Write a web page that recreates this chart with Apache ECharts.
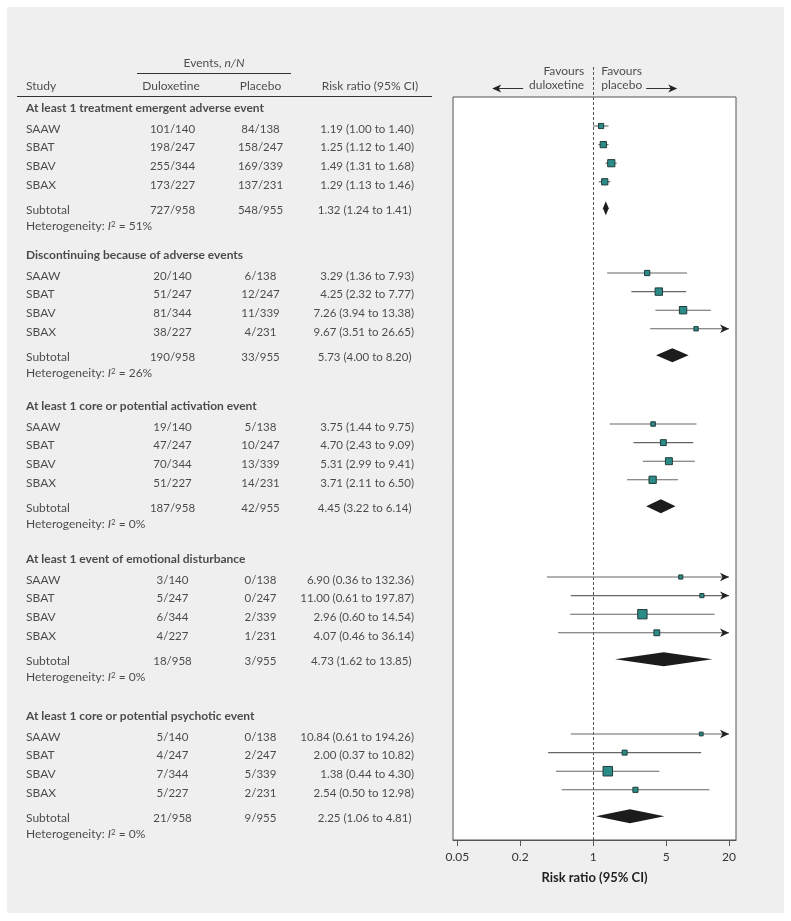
<!DOCTYPE html>
<html><head><meta charset="utf-8">
<script src="https://cdn.jsdelivr.net/npm/echarts@6/dist/echarts.min.js"></script>
<style>html,body{margin:0;padding:0;background:#fff}#c{width:791px;height:921px}</style>
</head><body><div id="c"></div>
<script>
// ---------------- DATA ----------------
const groupTitles = [
  'At least 1 treatment emergent adverse event',
  'Discontinuing because of adverse events',
  'At least 1 core or potential activation event',
  'At least 1 event of emotional disturbance',
  'At least 1 core or potential psychotic event'
];
const studies = ['SAAW', 'SBAT', 'SBAV', 'SBAX'];
const duloxN = [140, 247, 344, 227];
const placeboN = [138, 247, 339, 231];
const duloxEvents = [[101,198,255,173],[20,51,81,38],[19,47,70,51],[3,5,6,4],[5,4,7,5]];
const placeboEvents = [[84,158,169,137],[6,12,11,4],[5,10,13,14],[0,0,2,1],[0,2,5,2]];
const rr     = [[1.19,1.25,1.49,1.29],[3.29,4.25,7.26,9.67],[3.75,4.70,5.31,3.71],[6.90,11.00,2.96,4.07],[10.84,2.00,1.38,2.54]];
const rrLow  = [[1.00,1.12,1.31,1.13],[1.36,2.32,3.94,3.51],[1.44,2.43,2.99,2.11],[0.36,0.61,0.60,0.46],[0.61,0.37,0.44,0.50]];
const rrHigh = [[1.40,1.40,1.68,1.46],[7.93,7.77,13.38,26.65],[9.75,9.09,9.41,6.50],[132.36,197.87,14.54,36.14],[194.26,10.82,4.30,12.98]];
const weights = [[17,25,33,25],[18,35,35,12],[13,22,31,34],[11,11,56,22],[9,16,58,17]]; // estimated study weights (%)
const subDuloxEvents = [727,190,187,18,21];
const subDuloxN = 958;
const subPlaceboEvents = [548,33,42,3,9];
const subPlaceboN = 955;
const subRR   = [1.32,5.73,4.45,4.73,2.25];
const subLow  = [1.24,4.00,3.22,1.62,1.06];
const subHigh = [1.41,8.20,6.14,13.85,4.81];
const heterogeneity = [51,26,0,0,0];
const xTicks = [0.05, 0.2, 1, 5, 20];
const xTitle = 'Risk ratio (95% CI)';

// ---------------- LAYOUT ----------------
const FONT = 'Lato';
const TXT = '#1f1f1f';
const FS = 12;      // words
const FSN = 11.5;   // numbers
const GROUP_TOP = [29, 176, 327, 480, 637];
const ROW_STEP = 18.6, SUB_GAP = 26.5;
const CLIP = 20;
const SQ_K = 1.25;
const L = Math.log10;
function rowY(g, i) { return GROUP_TOP[g] + i * ROW_STEP; }
function subY(g) { return rowY(g, 3) + SUB_GAP; }
function fmtRR(a, b, c) { return a.toFixed(2) + ' (' + b.toFixed(2) + ' to ' + c.toFixed(2) + ')'; }

const COL = { study: 26, dulox: 172.5, plac: 260.5, rr: 414, rrSub: 411.5 };

const rich = {
  n: { fontFamily: FONT, fontSize: FS, color: TXT },
  it: { fontFamily: FONT, fontSize: FS, color: TXT, fontStyle: 'italic' },
  sup: { fontFamily: FONT, fontSize: 8, color: TXT, verticalAlign: 'top', lineHeight: 9 }
};

const textItems = [];
function addText(x, y, text, align, bold, size) { textItems.push({ x, y, text, align, bold, size: size || FS }); }
addText(214, -34, '{n|Events, }{it|n/N}', 'center');
addText(COL.study, -11, 'Study', 'left');
addText(171, -11, 'Duloxetine', 'center');
addText(COL.plac, -11, 'Placebo', 'center');
addText(370, -11, 'Risk ratio (95% CI)', 'center');
for (let g = 0; g < groupTitles.length; g++) {
  addText(COL.study, rowY(g, 0) - 18, groupTitles[g], 'left', true);
  for (let i = 0; i < studies.length; i++) {
    const y = rowY(g, i) + 3;
    addText(COL.study, y, studies[i], 'left');
    addText(COL.dulox, y, duloxEvents[g][i] + '/' + duloxN[i], 'center', false, FSN);
    addText(COL.plac, y, placeboEvents[g][i] + '/' + placeboN[i], 'center', false, FSN);
    addText(COL.rr, y, fmtRR(rr[g][i], rrLow[g][i], rrHigh[g][i]), 'right', false, FSN);
  }
  const ys = subY(g) + 2;
  addText(COL.study, ys, 'Subtotal', 'left');
  addText(COL.dulox, ys, subDuloxEvents[g] + '/' + subDuloxN, 'center', false, FSN);
  addText(COL.plac, ys, subPlaceboEvents[g] + '/' + subPlaceboN, 'center', false, FSN);
  addText(COL.rrSub, ys, fmtRR(subRR[g], subLow[g], subHigh[g]), 'right', false, FSN);
  addText(COL.study, subY(g) + 18, '{n|Heterogeneity: }{it|I}{sup|2}{n| = ' + heterogeneity[g] + '%}', 'left');
}

const ciData = [], sqData = [], dmData = [];
for (let g = 0; g < groupTitles.length; g++) {
  for (let i = 0; i < studies.length; i++) {
    ciData.push([L(rrLow[g][i]), L(Math.min(rrHigh[g][i], CLIP)), rowY(g, i), rrHigh[g][i] > CLIP ? 1 : 0]);
    sqData.push({ value: [L(rr[g][i]), rowY(g, i)], symbolSize: SQ_K * Math.sqrt(weights[g][i]) });
  }
  dmData.push([L(subLow[g]), L(subRR[g]), L(subHigh[g]), subY(g)]);
}

const chart = echarts.init(document.getElementById('c'), null, { renderer: 'canvas', width: 791, height: 921 });
const tickVals = xTicks.map(L);
chart.setOption({
  animation: false,
  backgroundColor: '#ffffff',
  textStyle: { fontFamily: FONT, color: TXT },
  graphic: [{ type: 'rect', z: -100, silent: true, shape: { x: 7, y: 7, width: 777, height: 906 }, style: { fill: '#eeefee' } }],
  grid: [
    { left: 453, right: 55, top: 97, bottom: 81, show: true, backgroundColor: '#ffffff', borderColor: '#555', borderWidth: 1, containLabel: false },
    { left: 0, width: 440, top: 0, bottom: 81, show: false }
  ],
  xAxis: [
    {
      type: 'value', gridIndex: 0, position: 'bottom', min: -1.343, max: 1.368,
      axisLine: { show: true, onZero: false, lineStyle: { color: '#555', width: 1 } },
      axisTick: { show: true, customValues: tickVals, length: 6, lineStyle: { color: '#555' } },
      axisLabel: { show: true, customValues: tickVals, margin: 11, fontSize: 12, color: '#333', fontFamily: FONT,
        formatter: v => String(Math.round(Math.pow(10, v) * 100) / 100) },
      splitLine: { show: false },
      minorTick: { show: false },
      name: xTitle, nameLocation: 'middle', nameGap: 31,
      nameTextStyle: { fontFamily: FONT, fontSize: 13, fontWeight: 'bold', color: '#1f1f1f' }
    },
    { type: 'value', gridIndex: 1, min: 0, max: 440, show: false }
  ],
  yAxis: [
    { type: 'value', gridIndex: 0, min: 0, max: 743, inverse: true, show: false },
    { type: 'value', gridIndex: 1, min: -97, max: 743, inverse: true, show: false }
  ],
  series: [
    { // reference line at RR = 1
      type: 'custom', xAxisIndex: 0, yAxisIndex: 0, silent: true, clip: false, z: 1,
      data: [[0, -30, 743]],
      renderItem: (p, api) => {
        const a = api.coord([api.value(0), api.value(1)]);
        const b = api.coord([api.value(0), api.value(2)]);
        const x = Math.round(a[0]) + 0.5;
        return { type: 'line', shape: { x1: x, y1: a[1], x2: x, y2: b[1] }, style: { stroke: '#555', lineWidth: 1, lineDash: [3, 2] } };
      }
    },
    { // favours arrows
      type: 'custom', xAxisIndex: 0, yAxisIndex: 0, silent: true, clip: false, z: 2,
      data: [[0, -9]],
      renderItem: (p, api) => {
        const c = api.coord([api.value(0), api.value(1)]);
        const x = c[0], y = Math.round(c[1]) + 0.5;
        const st = { stroke: '#333', lineWidth: 1 };
        return { type: 'group', children: [
          { type: 'line', shape: { x1: x - 70, y1: y, x2: x - 95, y2: y }, style: st },
          { type: 'polygon', shape: { points: [[x - 101, y], [x - 92, y - 4], [x - 94.5, y], [x - 92, y + 4]] }, style: { fill: '#222' } },
          { type: 'line', shape: { x1: x + 53, y1: y, x2: x + 78, y2: y }, style: st },
          { type: 'polygon', shape: { points: [[x + 84, y], [x + 75, y - 4], [x + 77.5, y], [x + 75, y + 4]] }, style: { fill: '#222' } }
        ] };
      }
    },
    { // favours texts
      type: 'scatter', xAxisIndex: 0, yAxisIndex: 0, silent: true, clip: false, symbolSize: 0,
      itemStyle: { color: 'rgba(0,0,0,0)' },
      data: [
        { value: [0, -19], label: { show: true, position: 'inside', formatter: 'Favours\nduloxetine', align: 'right', offset: [-9, 0], lineHeight: 14, fontSize: FS, color: TXT, fontFamily: FONT } },
        { value: [0, -19], label: { show: true, position: 'inside', formatter: 'Favours\nplacebo', align: 'left', offset: [8, 0], lineHeight: 14, fontSize: FS, color: TXT, fontFamily: FONT } }
      ]
    },
    { // confidence intervals
      type: 'custom', xAxisIndex: 0, yAxisIndex: 0, silent: true, clip: false, z: 3,
      data: ciData,
      renderItem: (p, api) => {
        const a = api.coord([api.value(0), api.value(2)]);
        const b = api.coord([api.value(1), api.value(2)]);
        const ch = [{ type: 'line', shape: { x1: a[0], y1: a[1], x2: b[0], y2: b[1] }, style: { stroke: '#666', lineWidth: 1.1 } }];
        if (api.value(3)) {
          ch.push({ type: 'polygon', shape: { points: [[b[0], b[1]], [b[0] - 9, b[1] - 4.2], [b[0] - 6.5, b[1]], [b[0] - 9, b[1] + 4.2]] }, style: { fill: '#222' } });
        }
        return { type: 'group', children: ch };
      }
    },
    { // study estimates
      type: 'scatter', xAxisIndex: 0, yAxisIndex: 0, silent: true, clip: false, z: 4,
      symbol: 'rect', data: sqData,
      itemStyle: { color: '#2b8b86', borderColor: '#223c3b', borderWidth: 1, opacity: 1 }
    },
    { // subtotal diamonds
      type: 'custom', xAxisIndex: 0, yAxisIndex: 0, silent: true, clip: false, z: 4,
      data: dmData,
      renderItem: (p, api) => {
        const lo = api.coord([api.value(0), api.value(3)]);
        const md = api.coord([api.value(1), api.value(3)]);
        const hi = api.coord([api.value(2), api.value(3)]);
        const h = 7;
        return { type: 'polygon', shape: { points: [[lo[0], lo[1]], [md[0], md[1] - h], [hi[0], hi[1]], [md[0], md[1] + h]] }, style: { fill: '#1c1c1c' } };
      }
    },
    { // table rules
      type: 'custom', xAxisIndex: 1, yAxisIndex: 1, silent: true, clip: false,
      data: [[137, 291, -23.5], [17, 432, -0.5]],
      renderItem: (p, api) => {
        const a = api.coord([api.value(0), api.value(2)]);
        const b = api.coord([api.value(1), api.value(2)]);
        return { type: 'line', shape: { x1: a[0], y1: a[1], x2: b[0], y2: b[1] }, style: { stroke: '#333', lineWidth: 1 } };
      }
    },
    { // table text
      type: 'scatter', xAxisIndex: 1, yAxisIndex: 1, silent: true, clip: false, symbolSize: 0,
      itemStyle: { color: 'rgba(0,0,0,0)' },
      data: textItems.map(t => ({
        value: [t.x, t.y],
        label: { show: true, position: 'inside', formatter: t.text, align: t.align, verticalAlign: 'middle',
          fontFamily: FONT, fontSize: t.size, color: TXT, fontWeight: t.bold ? 'bold' : 'normal', rich: rich }
      }))
    }
  ]
});
</script></body></html>
